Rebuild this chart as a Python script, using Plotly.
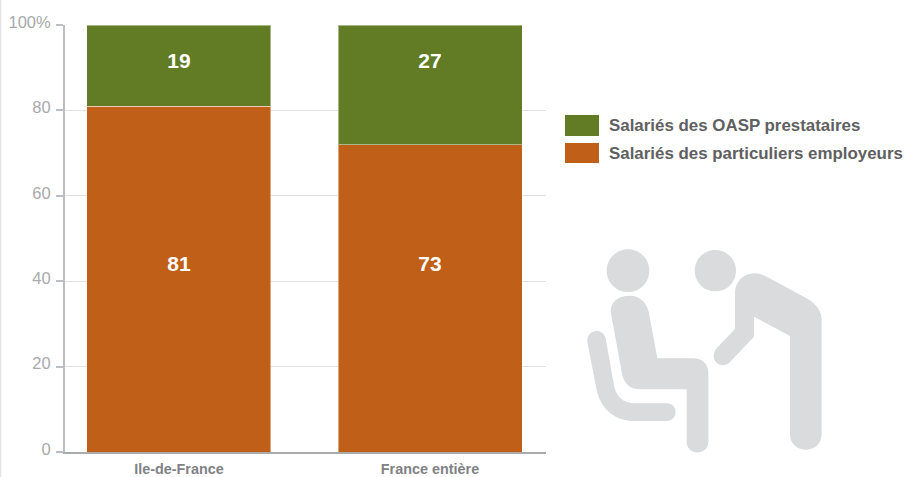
import plotly.graph_objects as go

categories = ["Ile-de-France", "France entière"]
series_orange_name = "Salariés des particuliers employeurs"
series_green_name = "Salariés des OASP prestataires"
orange_heights = [81, 72]
green_heights = [19, 28]
orange_labels = ["81", "73"]
green_labels = ["19", "27"]
orange_label_y = [43.6, 43.6]
green_label_y = [91.1, 91.1]
tick_vals = [0, 20, 40, 60, 80, 100]
tick_text = ["0", "20", "40", "60", "80", "100%"]

GREEN = "#617c25"
ORANGE = "#c05f17"
ICON = "#d9dbdc"
W, H = 905, 477
L, R, T, B = 65, 546, 25, 452


def px(x):
    return (x - L) / (R - L)


def py(y):
    return (B - y) / (B - T)


def zoom_pt(p):
    return f"{px(570 + p[0] / 3):.4f},{py(230 + p[1] / 3):.4f}"


def path(cmds):
    out = ""
    for c, *pts in cmds:
        out += c + " ".join(zoom_pt(p) for p in pts) + " "
    return out + "Z"


def circle(cx, cy, r):
    k = 0.5523 * r
    return path([
        ("M", (cx - r, cy)),
        ("C", (cx - r, cy - k), (cx - k, cy - r), (cx, cy - r)),
        ("C", (cx + k, cy - r), (cx + r, cy - k), (cx + r, cy)),
        ("C", (cx + r, cy + k), (cx + k, cy + r), (cx, cy + r)),
        ("C", (cx - k, cy + r), (cx - r, cy + k), (cx - r, cy)),
    ])


seated = [
    ("M", (122, 245)),
    ("L", (155, 425)),
    ("C", (160, 460), (180, 478), (210, 478)),
    ("L", (350, 478)),
    ("L", (350, 635)),
    ("C", (350, 678), (415, 678), (415, 635)),
    ("L", (415, 430)),
    ("C", (415, 400), (395, 385), (370, 385)),
    ("L", (262, 385)),
    ("L", (236, 245)),
    ("C", (228, 212), (205, 197), (180, 197)),
    ("C", (145, 197), (122, 215), (122, 245)),
]
chair = [
    ("M", (52, 335)),
    ("C", (50, 295), (104, 292), (108, 330)),
    ("L", (130, 455)),
    ("C", (135, 500), (160, 520), (195, 520)),
    ("L", (290, 520)),
    ("C", (326, 520), (326, 573), (290, 573)),
    ("L", (190, 573)),
    ("C", (130, 573), (90, 530), (80, 480)),
]
standing = [
    ("M", (495, 185)),
    ("C", (497, 145), (540, 112), (590, 140)),
    ("L", (710, 205)),
    ("C", (740, 222), (755, 245), (755, 270)),
    ("L", (755, 612)),
    ("C", (755, 675), (660, 675), (660, 612)),
    ("L", (660, 318)),
    ("L", (552, 260)),
    ("L", (552, 320)),
    ("L", (480, 396)),
    ("C", (455, 422), (412, 390), (440, 355)),
    ("L", (495, 297)),
]

icon_paths = [circle(174, 122, 64), circle(436, 122, 62), path(seated), path(chair), path(standing)]

fig = go.Figure()
edge = dict(color="rgba(255,255,255,0.45)", width=1)
fig.add_bar(x=categories, y=orange_heights, name=series_orange_name, marker=dict(color=ORANGE, line=edge), width=0.733)
fig.add_bar(x=categories, y=green_heights, name=series_green_name, marker=dict(color=GREEN, line=edge), width=0.733)
label_font = dict(family="Liberation Sans", size=21, color="white")
fig.add_scatter(x=categories, y=orange_label_y, text=[f"<b>{t}</b>" for t in orange_labels], mode="text",
                textfont=label_font, showlegend=False, hoverinfo="skip")
fig.add_scatter(x=categories, y=green_label_y, text=[f"<b>{t}</b>" for t in green_labels], mode="text",
                textfont=label_font, showlegend=False, hoverinfo="skip")

shapes = [dict(type="path", path=p, xref="paper", yref="paper", fillcolor=ICON, line=dict(width=0), layer="above") for p in icon_paths]
shapes.append(dict(type="line", xref="paper", yref="paper", x0=px(0.5), x1=px(0.5), y0=py(0), y1=py(477), line=dict(color="#e2e2e2", width=1.5)))
for color, y0, y1 in [(GREEN, 115, 136), (ORANGE, 143, 163)]:
    shapes.append(dict(type="rect", xref="paper", yref="paper", x0=px(565), x1=px(599), y0=py(y0), y1=py(y1), fillcolor=color, line=dict(width=0)))

legend_font = dict(family="Liberation Sans", size=16.9, color="#5f6062")
annotations = [
    dict(text=f"<b>{name}</b>", xref="paper", yref="paper", x=px(608), y=py(yc), xanchor="left", yanchor="middle",
         showarrow=False, font=legend_font, xshift=-1)
    for name, yc in [(series_green_name, 125), (series_orange_name, 153)]
]

fig.update_layout(
    barmode="stack",
    width=W, height=H,
    margin=dict(l=L, r=W - R, t=T, b=H - B, pad=0),
    paper_bgcolor="white", plot_bgcolor="white",
    showlegend=False,
    shapes=shapes, annotations=annotations,
    xaxis=dict(type="category", categoryorder="array", categoryarray=categories, range=[-0.454, 1.462], showline=True, linecolor="#a9abad", linewidth=2,
               ticks="", showgrid=False, automargin=False, ticklabelstandoff=3,
               ticktext=[f"<b>{c}</b>" for c in categories], tickvals=categories,
               tickfont=dict(family="Liberation Sans", size=14.4, color="#808285")),
    yaxis=dict(range=[0, 100], tickvals=tick_vals, ticktext=tick_text, showgrid=True, gridcolor="#dfe0e1", gridwidth=1,
               zeroline=False, showline=True, linecolor="#bcbdc0", linewidth=2, ticks="outside", ticklen=7, tickcolor="#bcbdc0",
               automargin=False, ticklabelstandoff=2, ticklabelshift=-3,
               tickwidth=1.5, tickfont=dict(family="Liberation Sans", size=16.5, color="#a7a9ac")),
)
fig.write_html("out.html", config=dict(displayModeBar=False),
               post_script="document.body.style.margin='0';document.body.style.overflow='hidden';")
